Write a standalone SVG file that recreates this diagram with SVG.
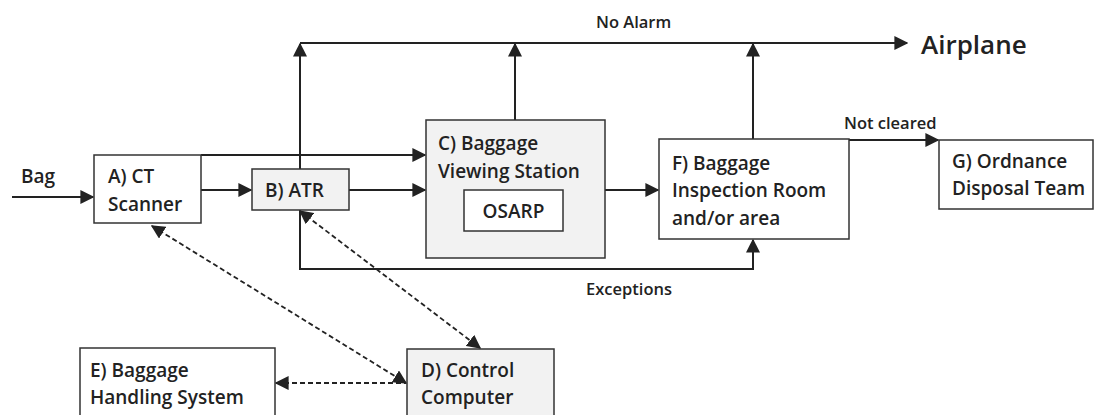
<svg xmlns="http://www.w3.org/2000/svg" width="1094" height="415" viewBox="0 0 1094 415">
<style>
.box{stroke:#333;stroke-width:1.5}
.w{fill:#fff}
.g{fill:#f2f2f2}
text{font-family:"Open Sans","Liberation Sans",Arial,sans-serif;font-weight:600;fill:#222;font-size:19px}
.sm{font-size:16.5px}
.big{font-size:26px}
.ln{fill:none;stroke:#222;stroke-width:2}
.ds{fill:none;stroke:#222;stroke-width:1.8;stroke-dasharray:5,3}
</style>
<defs>
<marker id="ah" viewBox="0 0 10 10" refX="9" refY="5" markerWidth="14" markerHeight="14" markerUnits="userSpaceOnUse" orient="auto-start-reverse"><path d="M0,0 L10,5 L0,10 Z" fill="#222"/></marker>
</defs>
<rect width="1094" height="415" fill="#fff"/>
<g id="connectors">
<line class="ln" x1="12" y1="197" x2="93" y2="197" marker-end="url(#ah)"/>
<line class="ln" x1="201" y1="190" x2="251" y2="190" marker-end="url(#ah)"/>
<line class="ln" x1="201" y1="155" x2="425" y2="155" marker-end="url(#ah)"/>
<line class="ln" x1="349" y1="190" x2="425" y2="190" marker-end="url(#ah)"/>
<line class="ln" x1="605" y1="190" x2="658" y2="190" marker-end="url(#ah)"/>
<line class="ln" x1="300" y1="169" x2="300" y2="44" marker-end="url(#ah)"/>
<line class="ln" x1="515" y1="120" x2="515" y2="44" marker-end="url(#ah)"/>
<line class="ln" x1="753" y1="139" x2="753" y2="44" marker-end="url(#ah)"/>
<line class="ln" x1="300" y1="43" x2="907" y2="43" marker-end="url(#ah)"/>
<line class="ln" x1="849" y1="140" x2="938" y2="140" marker-end="url(#ah)"/>
<polyline class="ln" points="300,210 300,269 753,269 753,240" marker-end="url(#ah)"/>
<line class="ds" x1="152" y1="226" x2="406" y2="383" marker-start="url(#ah)" marker-end="url(#ah)"/>
<line class="ds" x1="300" y1="211" x2="480" y2="348" marker-start="url(#ah)" marker-end="url(#ah)"/>
<line class="ds" x1="276" y1="383" x2="406" y2="383" marker-start="url(#ah)"/>
<text x="21" y="183">Bag</text>
<text class="sm" x="596" y="28">No Alarm</text>
<text class="big" x="921" y="54">Airplane</text>
<text class="sm" x="844" y="129">Not cleared</text>
<text class="sm" x="586" y="295">Exceptions</text>
</g>
<g id="A"><rect class="box w" x="94" y="155" width="107" height="68"/><text x="108" y="183">A) CT</text><text x="108" y="211">Scanner</text></g>
<g id="B"><rect class="box g" x="252" y="169" width="97" height="41"/><text x="265" y="197">B) ATR</text></g>
<g id="C"><rect class="box g" x="426" y="120" width="179" height="138"/><text x="438" y="150">C) Baggage</text><text x="438" y="178">Viewing Station</text>
<rect class="box w" x="464" y="190" width="99" height="41"/><text x="513.5" y="218" text-anchor="middle">OSARP</text></g>
<g id="F"><rect class="box w" x="659" y="139" width="190" height="100"/><text x="672" y="170">F) Baggage</text><text x="672" y="197">Inspection Room</text><text x="672" y="225">and/or area</text></g>
<g id="G"><rect class="box w" x="939" y="140" width="154" height="69"/><text x="952" y="168">G) Ordnance</text><text x="952" y="195">Disposal Team</text></g>
<g id="E"><rect class="box w" x="80" y="348" width="195" height="70"/><text x="90" y="377">E) Baggage</text><text x="90" y="404">Handling System</text></g>
<g id="D"><rect class="box g" x="407" y="349" width="147" height="70"/><text x="421" y="377">D) Control</text><text x="421" y="404">Computer</text></g>
</svg>
